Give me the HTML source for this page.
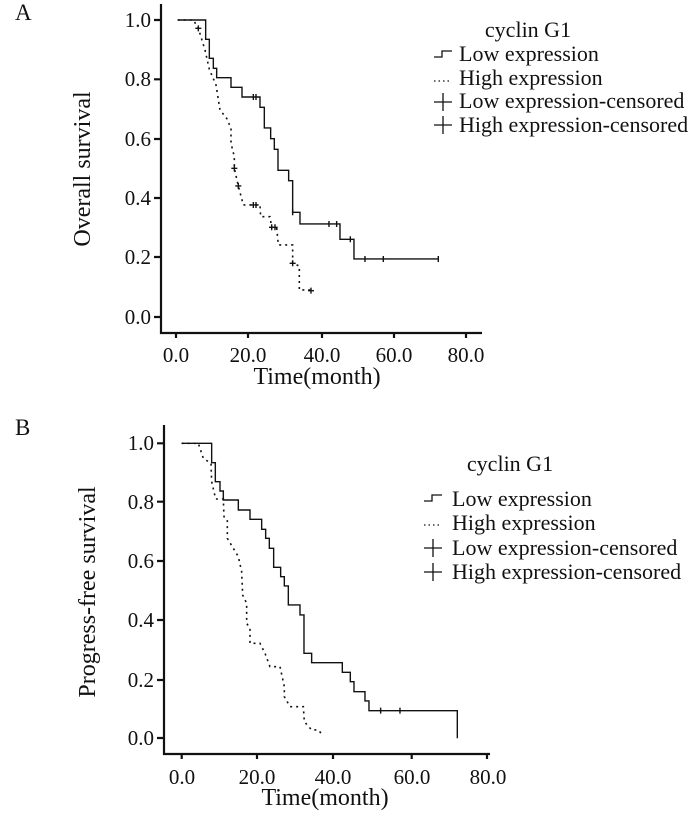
<!DOCTYPE html>
<html><head><meta charset="utf-8"><style>
html,body{margin:0;padding:0;background:#fff;}
svg{display:block;font-family:"Liberation Serif",serif;}
text{fill:#111;}
</style></head><body>
<svg width="700" height="813" viewBox="0 0 700 813" xmlns="http://www.w3.org/2000/svg">
<!-- Panel A -->
<text x="15" y="20" font-size="23">A</text>
<g stroke="#111" stroke-width="2.2" fill="none">
<path d="M161 4 V333 H482"/>
<path d="M154 20H161M154 79.3H161M154 139H161M154 198H161M154 257H161M154 317H161"/>
<path d="M176 333V338M248 333V338M322 333V338M394 333V338M466 333V338"/>
</g>
<g font-size="21" text-anchor="end">
<text x="151" y="27">1.0</text><text x="151" y="86">0.8</text><text x="151" y="146">0.6</text>
<text x="151" y="205">0.4</text><text x="151" y="264">0.2</text><text x="151" y="324">0.0</text>
</g>
<g font-size="21" text-anchor="middle">
<text x="176" y="362">0.0</text><text x="248" y="362">20.0</text><text x="322" y="362">40.0</text><text x="394" y="362">60.0</text><text x="466" y="362">80.0</text>
<text x="317" y="384" font-size="24">Time(month)</text>
</g>
<text transform="translate(90,169) rotate(-90)" font-size="24" text-anchor="middle">Overall survival</text>
<g transform="translate(150,0) scale(0.3333)" fill="none" stroke="#111">
<path vector-effect="non-scaling-stroke" stroke-width="1.4" d="M83 60H167V118H178V175H190V205H200V233H243V262H276V291H330V322H343V384H362V416H373V448H384V511H416V542H428V637H450V672H570V718H612V777H865"/>
<path vector-effect="non-scaling-stroke" stroke-width="1.6" stroke-dasharray="2 4" d="M83 60H130L145 85L165 150L178 208L198 255L210 330L230 355L243 385V430L253 470V505L265 558L280 615H330L332 650H360L365 682H380L385 735H428V790L448 798V870H483"/>
<path vector-effect="non-scaling-stroke" stroke-width="1.4" d="M310 282V300M318 282V300M428 628V646M537 663V681M560 663V681M601 709V727M645 768V786M700 768V786M865 768V786
M145 76V94M136 85H154M253 496V514M244 505H262M265 549V567M256 558H274M310 606V624M302 615H326M318 606V624M365 673V691M357 682H383M375 673V691M428 781V799M419 790H437M483 863V881M474 872H492"/>
</g>
<text x="528" y="37" font-size="22" text-anchor="middle">cyclin G1</text>
<g font-size="22"><text x="459" y="61">Low expression</text><text x="459" y="85">High expression</text><text x="459" y="108">Low expression-censored</text><text x="459" y="132">High expression-censored</text></g>
<g stroke="#111" stroke-width="1.3" fill="none">
<path d="M434 57H442V51H452"/>
<path d="M434 81H452" stroke-dasharray="1.5 3"/>
<path d="M434 102H452M443 93V111M434 125H452M443 116V134"/>
</g>

<!-- Panel B -->
<text x="15" y="435" font-size="23">B</text>
<g stroke="#111" stroke-width="2.2" fill="none">
<path d="M164 425 V754 H490"/>
<path d="M157 443.3H164M157 501.7H164M157 561H164M157 620H164M157 680H164M157 738H164"/>
<path d="M181.7 754V759M257 754V759M333 754V759M411.7 754V759M487 754V759"/>
</g>
<g font-size="21" text-anchor="end">
<text x="154" y="450">1.0</text><text x="154" y="509">0.8</text><text x="154" y="568">0.6</text>
<text x="154" y="627">0.4</text><text x="154" y="687">0.2</text><text x="154" y="745">0.0</text>
</g>
<g font-size="21" text-anchor="middle">
<text x="182" y="784">0.0</text><text x="257" y="784">20.0</text><text x="333" y="784">40.0</text><text x="412" y="784">60.0</text><text x="488" y="784">80.0</text>
<text x="325" y="805" font-size="24">Time(month)</text>
</g>
<text transform="translate(95,592) rotate(-90)" font-size="24" text-anchor="middle">Progress-free survival</text>
<g transform="translate(150,420) scale(0.3333)" fill="none" stroke="#111">
<path vector-effect="non-scaling-stroke" stroke-width="1.4" d="M95 70H185V128H196V185H210V213H220V240H265V270H300V298H335V328H347V355H358V385H371V442H392V470H403V498H415V555H450V585H462V700H485V728H577V757H601V785H612V815H645V843H657V872H922V955"/>
<path vector-effect="non-scaling-stroke" stroke-width="1.6" stroke-dasharray="2 4" d="M95 70H145L160 115L183 130L185 185L197 237H220L222 290L232 300V355L265 410L275 455L278 525L290 550V610L300 625V670H330L345 700L360 740H390L403 800V830L420 860H460L463 905L485 930H505L520 948"/>
<path vector-effect="non-scaling-stroke" stroke-width="1.4" d="M692 863V881M750 863V881"/>
</g>
<text x="510" y="471" font-size="22" text-anchor="middle">cyclin G1</text>
<g font-size="22"><text x="452" y="506">Low expression</text><text x="452" y="530">High expression</text><text x="452" y="555">Low expression-censored</text><text x="452" y="579">High expression-censored</text></g>
<g stroke="#111" stroke-width="1.3" fill="none">
<path d="M424 501H432V495H442"/>
<path d="M424 525H442" stroke-dasharray="1.5 3"/>
<path d="M424 548H442M433 539V557M424 572H442M433 563V581"/>
</g>
</svg>
</body></html>
